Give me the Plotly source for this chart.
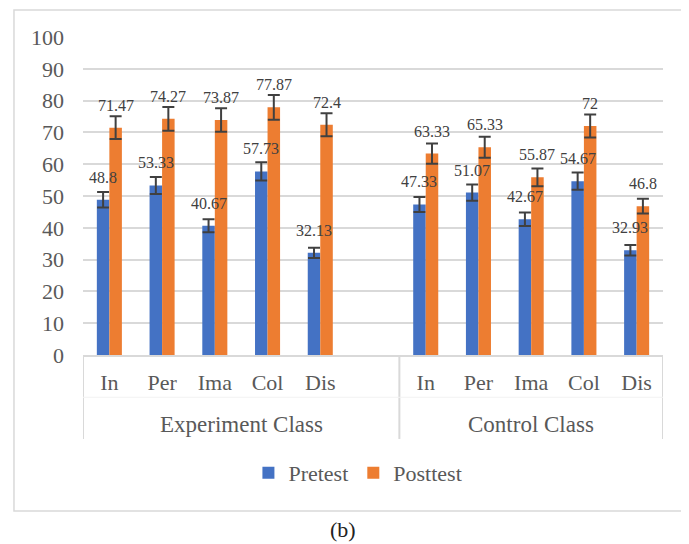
import plotly.graph_objects as go

groups = ["Experiment Class", "Control Class"]
categories = ["In", "Per", "Ima", "Col", "Dis"]
exp_pretest = [48.8, 53.33, 40.67, 57.73, 32.13]
exp_posttest = [71.47, 74.27, 73.87, 77.87, 72.4]
ctl_pretest = [47.33, 51.07, 42.67, 54.67, 32.93]
ctl_posttest = [63.33, 65.33, 55.87, 72, 46.8]
error_percent = 5
y_ticks = list(range(0, 101, 10))

# Excel-like layout: an empty slot at the end of the Experiment group
group_slots = [categories + [""], categories]
x_keys, x_text, group_bounds = [], [], []
for g, slots in zip(groups, group_slots):
    start = len(x_keys)
    for c in slots:
        x_keys.append(f"{g}|{c}")
        x_text.append(c)
    group_bounds.append((start, len(x_keys)))
pre_vals = exp_pretest + [None] + ctl_pretest
post_vals = exp_posttest + [None] + ctl_posttest
n_slots = len(x_keys)

BLUE = "#4472C4"
ORANGE = "#ED7D31"
TXT = "#595959"
GRID = "#D9D9D9"
FONT = "Liberation Serif"

fig = go.Figure()
for name, vals, color in [("Pretest", pre_vals, BLUE), ("Posttest", post_vals, ORANGE)]:
    fig.add_trace(go.Bar(
        name=name, x=x_keys, y=vals,
        marker=dict(color=color, line=dict(width=0)),
        error_y=dict(type="percent", value=error_percent, color="#404040",
                     thickness=2, width=6),
    ))

bargap = 0.525
half = (1 - bargap) / 4
annotations = []
for i, (pv, qv) in enumerate(zip(pre_vals, post_vals)):
    for v, off in [(pv, -half), (qv, half)]:
        if v is None:
            continue
        annotations.append(dict(
            x=i + off, y=v, xref="x", yref="y", text=f"{v:g}", showarrow=False,
            yanchor="bottom", yshift=12, font=dict(family=FONT, size=16, color="#404040"),
        ))

# group labels and dividers of the two-level category axis
label_depth = -0.264
shapes = []
for g, (a, b) in zip(groups, group_bounds):
    annotations.append(dict(x=(a + b - 1) / 2, y=-0.220, xref="x", yref="paper", text=g,
                            showarrow=False, yanchor="middle",
                            font=dict(family=FONT, size=23, color=TXT)))
for edge in sorted({a for a, b in group_bounds} | {b for a, b in group_bounds}):
    shapes.append(dict(type="line", xref="x", yref="paper", x0=edge - 0.5, x1=edge - 0.5,
                       y0=0, y1=label_depth, line=dict(color=GRID, width=2)))
shapes.append(dict(type="line", xref="paper", yref="paper", x0=0, x1=1, y0=-0.133, y1=-0.133,
                   line=dict(color="#F2F2F2", width=1)))

annotations.append(dict(x=0.448, y=-0.55, xref="paper", yref="paper", text="(b)",
                        showarrow=False, yanchor="middle",
                        font=dict(family=FONT, size=22, color="#222222")))

shapes.append(dict(type="rect", xref="paper", yref="paper", x0=-0.119, x1=1.07,
                   y0=-0.4906, y1=1.085, line=dict(color=GRID, width=1.5), layer="below"))

fig.update_layout(
    width=681, height=536,
    margin=dict(l=75, r=26, t=29, b=189),
    paper_bgcolor="white", plot_bgcolor="white",
    barmode="group", bargap=bargap, bargroupgap=0,
    font=dict(family=FONT, size=22, color=TXT),
    legend=dict(orientation="h", x=0.474, xanchor="center", y=-0.371, yanchor="middle",
                font=dict(family=FONT, size=22, color=TXT), itemclick=False),
    annotations=annotations,
    shapes=shapes,
)
fig.update_yaxes(range=[0, 100], tickvals=y_ticks, showgrid=True, gridcolor=GRID, gridwidth=2,
                 zeroline=False, showline=False, ticks="", ticklabelstandoff=18,
                 tickfont=dict(family=FONT, size=22, color=TXT))
fig.update_xaxes(type="category", categoryorder="array", categoryarray=x_keys,
                 tickvals=x_keys, ticktext=x_text, range=[-0.5, n_slots - 0.5],
                 showline=True, linecolor=GRID, linewidth=2, ticks="", showgrid=False,
                 ticklabelstandoff=7, tickfont=dict(family=FONT, size=22, color=TXT))

fig.write_html("out.html")
